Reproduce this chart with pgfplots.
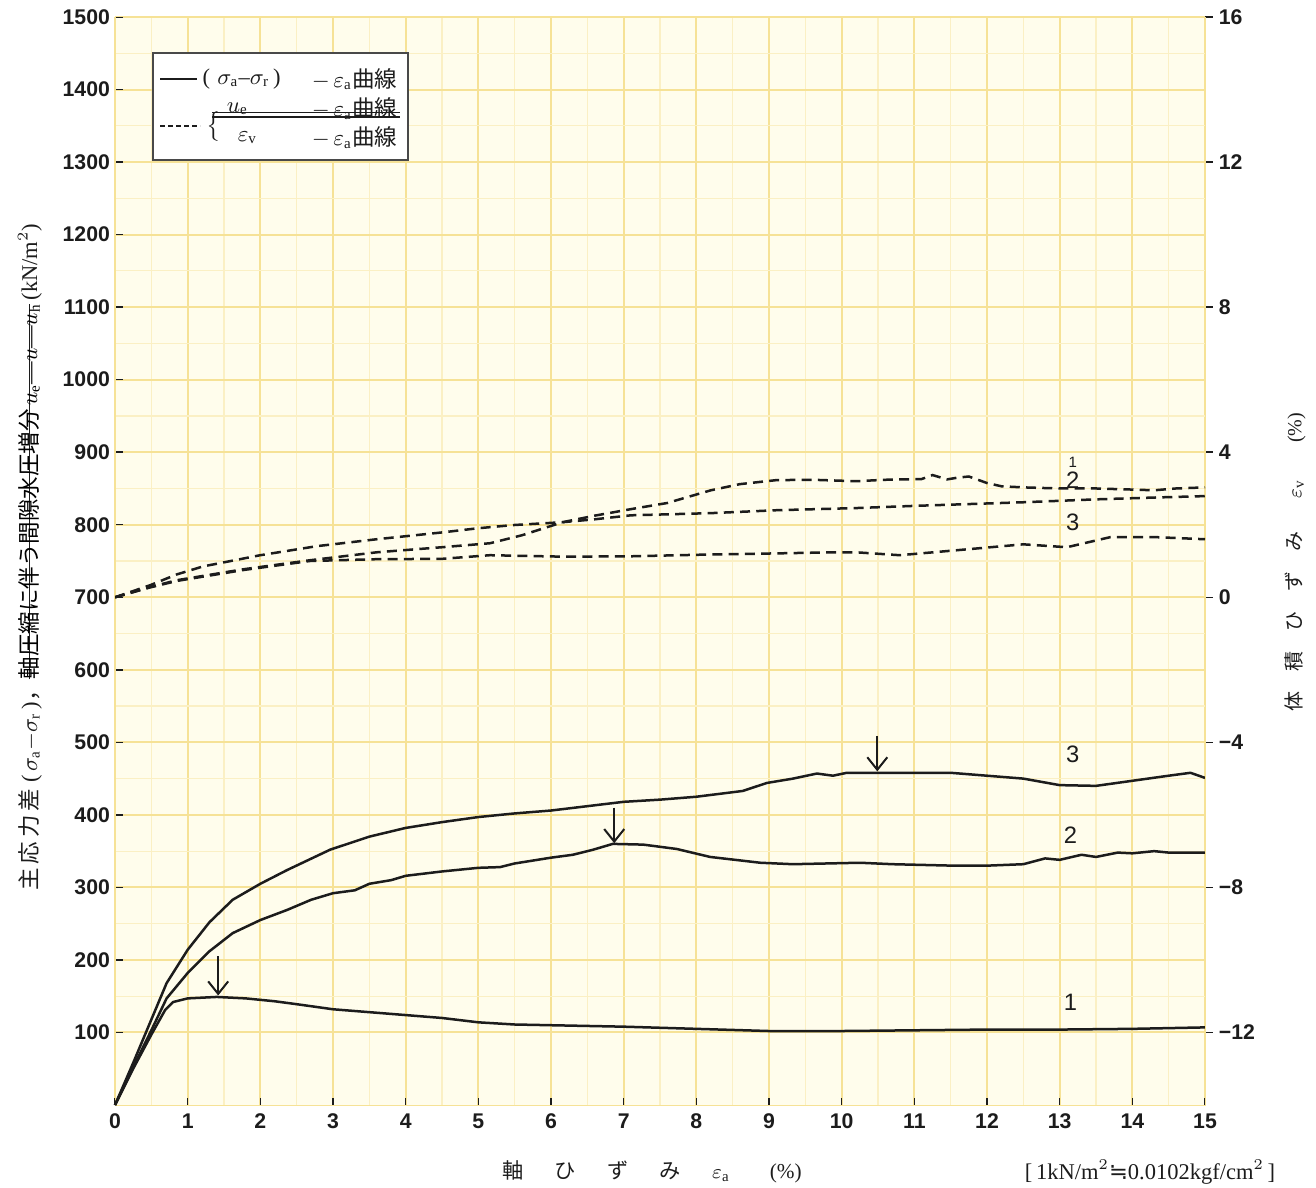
\documentclass[border=0pt]{standalone}
\usepackage{pgfplots}
\pgfplotsset{compat=1.18}
\usetikzlibrary{arrows.meta}
\usepackage{fontspec}
\setmainfont{Liberation Serif}
\newfontfamily\jp{Noto Sans CJK JP}
\newfontfamily\num{Liberation Sans}
\newfontfamily\sym{DejaVu Sans}
\definecolor{paper}{RGB}{255,253,236}
\definecolor{gmaj}{RGB}{246,226,150}
\definecolor{gmin}{RGB}{251,240,196}
\definecolor{ink}{RGB}{28,28,28}
\newsavebox\strk

\begin{document}
\sbox\strk{\normalfont\fontsize{9}{10}\selectfont{\jp 軸圧縮に伴う間隙水圧増分}\,$u_{\mathrm{e}}$—$u$—$u_{\mathrm{h}}$}%
\begin{tikzpicture}
\path[use as bounding box] (-46pt,-32.8pt) rectangle (480.4pt,442pt);
\begin{axis}[
  at={(0,0)}, anchor=south west,
  scale only axis, width=436pt, height=435.2pt,
  xmin=0, xmax=15, ymin=0, ymax=1500,
  axis background/.style={fill=paper},
  axis line style={draw=gmaj},
  xtick={0,...,15},
  xticklabels={0\hspace{11pt},1,2,3,4,5,6,7,8,9,10,11,12,13,14,15},
  ytick={100,200,...,1500},
  yticklabels={100,200,300,400,500,600,700,800,900,1000,1100,1200,1300,1400,1500},
  minor x tick num=1, minor y tick num=1,
  grid=both,
  major grid style={draw=gmaj, line width=0.8pt},
  minor grid style={draw=gmin, line width=0.5pt},
  tick pos=left, tick align=inside,
  major tick length=3pt, minor tick length=0pt,
  tick style={ink, line width=0.6pt},
  ticklabel style={font=\num\bfseries\fontsize{8.5}{10}\selectfont, text=ink},
  yticklabel style={xshift=1.5pt},
  clip=false,
]
% (sigma_a - sigma_r) - eps_a curves
\addplot[ink, line width=1pt, line join=round] coordinates {
(0,0)(0.25,50)(0.5,97)(0.69,131)(0.8,142)(1.0,147)(1.4,149)(1.8,147)(2.2,143)
(2.5,139)(3,132)(3.5,128)(4,124)(4.5,120)(5,114)(5.5,111)(6,110)(7,108)
(8,105)(9,102)(10,102)(11,103)(12,104)(13,104)(14,105)(15,107)};
\addplot[ink, line width=1pt, line join=round] coordinates {
(0,0)(0.25,52)(0.5,103)(0.71,147)(1.0,182)(1.3,212)(1.62,237)(2,255)(2.37,269)
(2.7,283)(3,292)(3.3,296)(3.5,305)(3.8,310)(4,316)(4.5,322)(5,327)(5.3,328)
(5.5,333)(6,341)(6.3,345)(6.58,352)(6.85,360)(7.27,359)(7.73,353)(8.19,342)
(8.88,334)(9.33,332)(10.25,334)(10.7,332)(11.53,330)(12,330)(12.5,332)
(12.8,340)(13,338)(13.3,345)(13.5,342)(13.8,348)(14,347)(14.3,350)(14.5,348)(15,348)};
\addplot[ink, line width=1pt, line join=round] coordinates {
(0,0)(0.25,58)(0.48,113)(0.71,168)(1.0,214)(1.3,252)(1.62,283)(2,305)(2.37,324)
(2.96,352)(3.5,370)(4,382)(4.5,390)(5,397)(5.5,402)(6,406)(6.5,412)(7,418)
(7.5,421)(8,425)(8.64,433)(8.97,444)(9.33,450)(9.66,457)(9.88,454)(10.07,458)
(10.5,458)(11.5,458)(12,454)(12.5,450)(13,441)(13.5,440)(14,447)(14.5,454)
(14.8,458)(15,451)};
% peak arrows
\draw[ink, line width=0.8pt, -{Straight Barb[length=5pt,width=8pt]}]
  (axis cs:1.42,205) -- (axis cs:1.42,151);
\draw[ink, line width=0.8pt, -{Straight Barb[length=5pt,width=8pt]}]
  (axis cs:6.87,410) -- (axis cs:6.87,361);
\draw[ink, line width=0.8pt, -{Straight Barb[length=5pt,width=8pt]}]
  (axis cs:10.49,509) -- (axis cs:10.49,460);
% curve numbers
\begin{scope}[every node/.style={font=\num\fontsize{9.5}{11}\selectfont, text=ink}]
\node at (axis cs:13.15,142) {1};
\node at (axis cs:13.15,372) {2};
\node at (axis cs:13.18,483) {3};
\node at (axis cs:13.18,862) {2};
\node[font=\num\fontsize{6}{7}\selectfont] at (axis cs:13.18,886) {1};
\node at (axis cs:13.18,804) {3};
\end{scope}
\end{axis}

\begin{axis}[
  at={(0,0)}, anchor=south west,
  scale only axis, width=436pt, height=435.2pt,
  xmin=0, xmax=15, ymin=-14, ymax=16,
  axis x line=none, axis y line*=right,
  axis line style={draw=gmaj, -},
  ytick={-12,-8,-4,0,4,8,12,16},
  yticklabels={−12,−8,−4,0,4,8,12,16},
  tick align=outside, major tick length=3pt,
  tick style={ink, line width=0.6pt},
  ticklabel style={font=\num\bfseries\fontsize{8.5}{10}\selectfont, text=ink},
  yticklabel style={xshift=-1pt},
]
% eps_v - eps_a curves
\addplot[ink, line width=1pt, dash pattern=on 4pt off 2.5pt] coordinates {
(0,0)(0.48,0.28)(0.85,0.47)(1.76,0.77)(2.68,1.02)(3.6,1.24)(4.5,1.38)(5.16,1.49)
(5.6,1.71)(6.16,2.07)(6.6,2.25)(7.1,2.43)(7.6,2.6)(8.2,2.95)(8.6,3.12)(9.1,3.23)
(9.6,3.24)(10.2,3.2)(10.6,3.24)(11.1,3.26)(11.25,3.37)(11.45,3.25)(11.6,3.3)
(11.75,3.33)(12.0,3.15)(12.2,3.06)(12.5,3.03)(13,3.0)(13.5,3.0)(14,2.97)
(14.3,2.95)(14.6,3.0)(15,3.03)};
\addplot[ink, line width=1pt, dash pattern=on 4pt off 2.5pt] coordinates {
(0,0)(0.48,0.33)(0.85,0.63)(1.21,0.85)(2,1.16)(2.78,1.41)(3.6,1.6)(4.51,1.79)
(4.98,1.9)(5.47,1.99)(6.16,2.07)(6.6,2.15)(7.1,2.26)(8.2,2.32)(9.1,2.40)
(10.2,2.46)(11,2.52)(12.5,2.62)(13.5,2.7)(14.3,2.75)(15,2.79)};
\addplot[ink, line width=1pt, dash pattern=on 4pt off 2.5pt] coordinates {
(0,0)(0.48,0.27)(0.85,0.45)(1.76,0.75)(2.68,1.0)(3.6,1.05)(4.5,1.06)(5.16,1.16)
(6.16,1.12)(7.1,1.13)(8.2,1.18)(9.1,1.21)(9.9,1.24)(10.2,1.24)(10.8,1.16)
(11.6,1.30)(12.5,1.46)(13.1,1.38)(13.7,1.66)(14.3,1.66)(15,1.6)};
\end{axis}

% legend box
\draw[ink!80, line width=0.6pt, fill=white] (15.2pt,378pt) rectangle (117.2pt,420.8pt);
\draw[ink, line width=0.8pt] (18pt,410.4pt) -- (32.8pt,410.4pt);
\draw[ink, line width=0.8pt, dash pattern=on 2pt off 1.2pt] (18pt,391.6pt) -- (34pt,391.6pt);
\begin{scope}[every node/.style={font=\fontsize{9}{10}\selectfont, text=ink, inner sep=0pt}]
\node[anchor=west] at (34.8pt,410.4pt) {(\,\,$\sigma_{\mathrm{a}}$--$\sigma_{\mathrm{r}}$\,)};
\node[anchor=west] at (78.5pt,410.4pt) {$-$\,$\varepsilon_{\mathrm{a}}${\jp 曲線}};
\node at (39.5pt,391.6pt) {$\bigl\{$};
\node at (49pt,398.6pt) {$u_{\mathrm{e}}$};
\node[anchor=west] at (78.5pt,398.6pt) {$-$\,$\varepsilon_{\mathrm{a}}${\jp 曲線}};
\node at (53pt,387pt) {$\varepsilon_{\mathrm{v}}$};
\node[anchor=west] at (78.5pt,387pt) {$-$\,$\varepsilon_{\mathrm{a}}${\jp 曲線}};
\end{scope}
\draw[ink, line width=0.5pt] (38.8pt,397pt) -- (114pt,397pt);
\draw[ink, line width=0.5pt] (38.8pt,395.2pt) -- (114pt,395.2pt);

% axis titles
\node[rotate=90, font=\fontsize{9}{10}\selectfont, text=ink] at (-34pt,219.2pt)
  {{\jp 主\,応\,力\,差}\;(\,$\sigma_{\mathrm{a}}$$-$$\sigma_{\mathrm{r}}$\,){\jp ，}\rlap{\rule[0.3em]{\wd\strk}{0.5pt}}\usebox\strk\,(kN/m$^2$)};
\node[rotate=90, font=\fontsize{8}{9}\selectfont, text=ink] at (472pt,217.2pt)
  {{\jp 体}\quad{\jp 積}\quad{\jp ひ}\quad{\jp ず}\quad{\jp み}\hspace{13pt}$\varepsilon_{\mathrm{v}}$\hspace{15pt}(\%)};
\node[font=\fontsize{8.5}{9}\selectfont, text=ink] at (214.8pt,-26.8pt)
  {{\jp 軸}\hspace{12.5pt}{\jp ひ}\hspace{12.5pt}{\jp ず}\hspace{12.5pt}{\jp み}\hspace{12.5pt}$\varepsilon_{\mathrm{a}}$\hspace{16pt}(\%)};
\node[font=\fontsize{9}{10}\selectfont, text=ink] at (414pt,-26.8pt)
  {[\,1kN/m$^2${\sym ≒}0.0102kgf/cm$^2$\,]};
\end{tikzpicture}
\end{document}
